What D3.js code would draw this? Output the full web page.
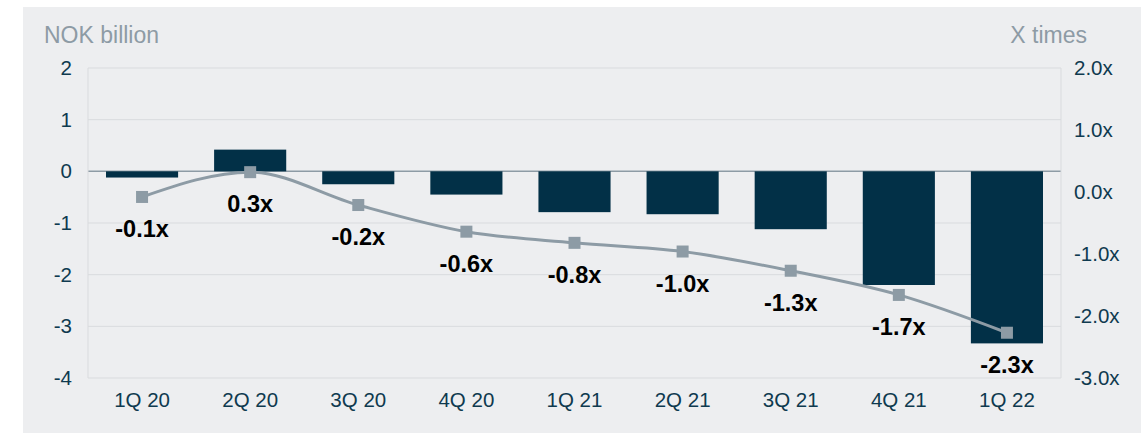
<!DOCTYPE html>
<html>
<head>
<meta charset="utf-8">
<script src="https://cdn.jsdelivr.net/npm/d3@7"></script>
<style>
  body { margin: 0; background: #ffffff; }
  text { font-family: "Liberation Sans", Arial, sans-serif; }
</style>
</head>
<body>
<div class="chart"></div>
<script>
var quarters = ["1Q 20", "2Q 20", "3Q 20", "4Q 20", "1Q 21", "2Q 21", "3Q 21", "4Q 21", "1Q 22"];
var nokBillion = [-0.12, 0.42, -0.25, -0.45, -0.79, -0.83, -1.12, -2.2, -3.33];
var xTimes = [-0.08, 0.32, -0.21, -0.64, -0.82, -0.96, -1.27, -1.66, -2.27];
var leftTicks = [2, 1, 0, -1, -2, -3, -4];
var rightTicks = [2, 1, 0, -1, -2, -3];

var svgWidth = 1141;
var svgHeight = 433;
var margin = { top: 68, right: 80, bottom: 55, left: 88 };
var width = 1061 - margin.left;
var height = 378 - margin.top;

var svg = d3.select(".chart")
  .append("svg")
  .attr("width", svgWidth)
  .attr("height", svgHeight);

// grey panel behind everything
svg.append("rect")
  .attr("x", 23).attr("y", 7)
  .attr("width", svgWidth - 23).attr("height", svgHeight - 7)
  .attr("fill", "#edeef0");

var chart = svg.append("g")
  .attr("transform", "translate(" + margin.left + "," + margin.top + ")");

var xScale = d3.scaleBand().domain(quarters).range([0, width]).paddingInner(0.333).paddingOuter(0.1665);
var yLeft = d3.scaleLinear().domain([-4, 2]).range([height, 0]);
var yRight = d3.scaleLinear().domain([-3, 2]).range([height, 0]);

// gridlines
chart.append("g")
  .selectAll("line")
  .data(leftTicks)
  .enter()
  .append("line")
  .attr("x1", 0).attr("x2", width)
  .attr("y1", function(d) { return yLeft(d); })
  .attr("y2", function(d) { return yLeft(d); })
  .attr("stroke", function(d) { return d === 0 ? "#8d9ba5" : "#d9dbde"; })
  .attr("stroke-width", function(d) { return d === 0 ? 1.5 : 1; });

// plot side borders
chart.append("line").attr("x1", 0).attr("x2", 0).attr("y1", 0).attr("y2", height)
  .attr("stroke", "#d9dbde");
chart.append("line").attr("x1", width).attr("x2", width).attr("y1", 0).attr("y2", height)
  .attr("stroke", "#d9dbde");

// bars
chart.selectAll(".bar")
  .data(nokBillion)
  .enter()
  .append("rect")
  .attr("class", "bar")
  .attr("x", function(d, i) { return xScale(quarters[i]); })
  .attr("width", xScale.bandwidth())
  .attr("y", function(d) { return yLeft(Math.max(0, d)); })
  .attr("height", function(d) { return Math.abs(yLeft(d) - yLeft(0)); })
  .attr("fill", "#023047");

// line on right axis
var line = d3.line()
  .x(function(d, i) { return xScale(quarters[i]) + xScale.bandwidth() / 2; })
  .y(function(d) { return yRight(d); })
  .curve(d3.curveMonotoneX);

chart.append("path")
  .datum(xTimes)
  .attr("d", line)
  .attr("fill", "none")
  .attr("stroke", "#8d9ba5")
  .attr("stroke-width", 3);

chart.selectAll(".marker")
  .data(xTimes)
  .enter()
  .append("rect")
  .attr("class", "marker")
  .attr("x", function(d, i) { return xScale(quarters[i]) + xScale.bandwidth() / 2 - 6; })
  .attr("y", function(d) { return yRight(d) - 6; })
  .attr("width", 12).attr("height", 12)
  .attr("fill", "#8d9ba5");

chart.selectAll(".dlabel")
  .data(xTimes)
  .enter()
  .append("text")
  .attr("class", "dlabel")
  .attr("x", function(d, i) { return xScale(quarters[i]) + xScale.bandwidth() / 2; })
  .attr("y", function(d) { return yRight(d) + 32; })
  .attr("dy", "0.35em")
  .attr("text-anchor", "middle")
  .style("font-size", "23.5px")
  .style("font-weight", "bold")
  .style("fill", "#000000")
  .text(function(d) { return d.toFixed(1) + "x"; });

// axes
var leftAxis = chart.append("g")
  .call(d3.axisLeft(yLeft).tickValues(leftTicks).tickSize(0).tickPadding(16)
    .tickFormat(function(d) { return String(d); }));
var rightAxis = chart.append("g")
  .attr("transform", "translate(" + width + ",0)")
  .call(d3.axisRight(yRight).tickValues(rightTicks).tickSize(0).tickPadding(13)
    .tickFormat(function(d) { return d.toFixed(1) + "x"; }));
var bottomAxis = chart.append("g")
  .attr("transform", "translate(0," + height + ")")
  .call(d3.axisBottom(xScale).tickSize(0).tickPadding(14));

[leftAxis, rightAxis, bottomAxis].forEach(function(ax) {
  ax.select(".domain").remove();
  ax.selectAll("text")
    .style("font-family", "Liberation Sans, Arial, sans-serif")
    .style("font-size", "20.5px")
    .style("fill", "#0f3a4f");
});

// axis titles
svg.append("text")
  .attr("x", 44).attr("y", 43)
  .style("font-size", "23px")
  .style("fill", "#8d9ba5")
  .text("NOK billion");

svg.append("text")
  .attr("x", 1087).attr("y", 43)
  .attr("text-anchor", "end")
  .style("font-size", "23px")
  .style("fill", "#8d9ba5")
  .text("X times");
</script>
</body>
</html>
